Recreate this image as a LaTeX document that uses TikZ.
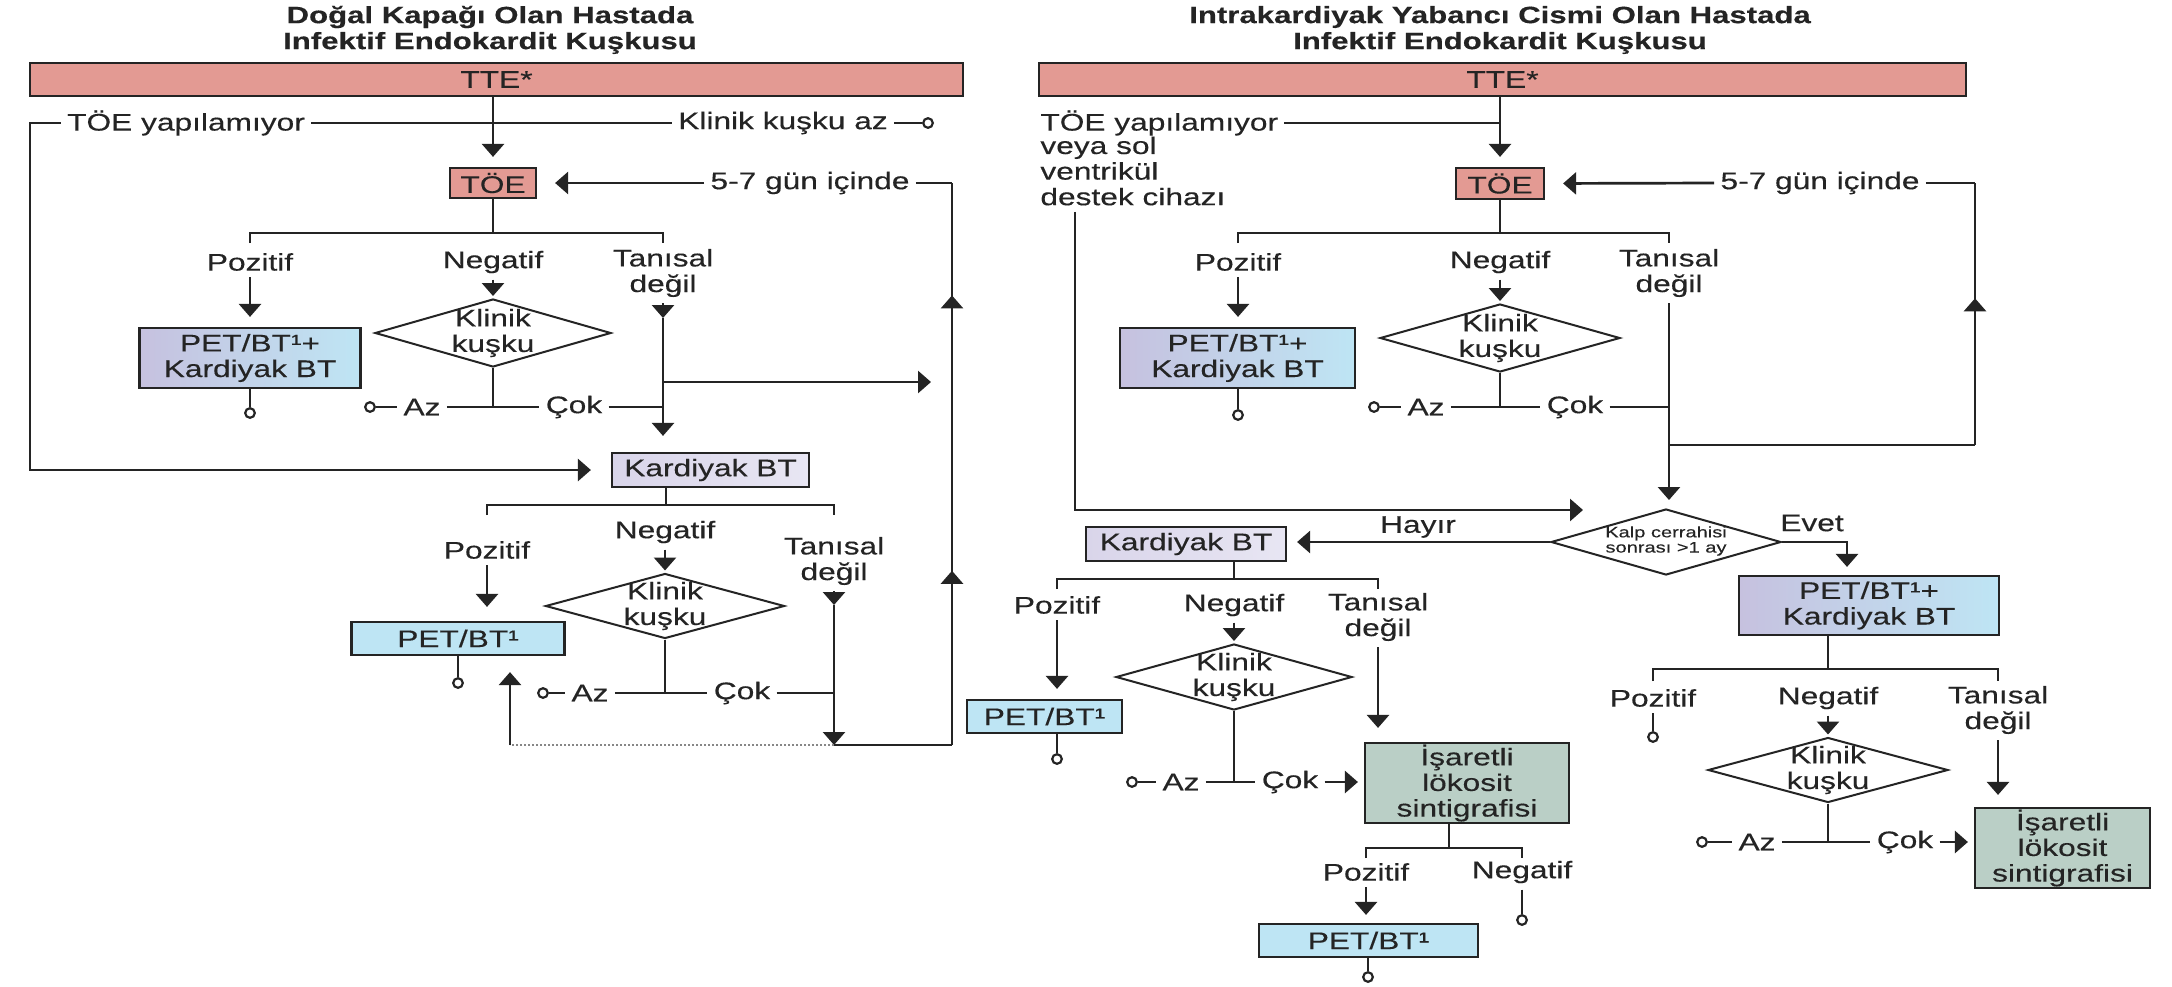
\documentclass[tikz,border=0pt]{standalone}
\usepackage{fontspec}
\setmainfont{Liberation Sans}[FakeStretch=1.32, FakeBold=0.3]
\usetikzlibrary{arrows.meta,shapes.geometric,decorations.markings}
\definecolor{tte}{HTML}{E39A93}
\definecolor{petb}{HTML}{BEE5F4}
\definecolor{lav}{HTML}{C6C1DF}
\definecolor{kbtl}{HTML}{D9D5EA}
\definecolor{kbtr}{HTML}{E8E6F3}
\definecolor{isr}{HTML}{BACFC6}
\definecolor{ink}{HTML}{242424}
\begin{document}
\begin{tikzpicture}[x=0.5pt,y=-0.5pt,
  every node/.style={text=ink, font=\fontsize{12}{12.8}\selectfont, inner sep=3pt, align=center},
  ttl/.style={font=\bfseries\fontsize{11.8}{12.5}\selectfont},
  box/.style={draw=ink, line width=1.1pt, inner sep=0pt},
  sz/.style 2 args={minimum width=#1*0.5pt, minimum height=#2*0.5pt},
  dia/.style={diamond, draw=ink, line width=1pt, inner sep=0pt},
  dot/.style={circle, draw=ink, line width=1.1pt, fill=white, inner sep=0pt, minimum size=4.8pt},
  ln/.style={draw=ink, line width=1.35pt},
  tip/.tip={Triangle[width=11pt,length=6.5pt]},
  arr/.style={ln, -tip},
  faint/.style={draw=ink!55, line width=1.35pt, dash pattern=on 1.2pt off 0.8pt},
  pbk/.style={box, left color=lav, right color=petb},
  kbt/.style={box, left color=kbtl, right color=kbtr},
  small/.style={font=\fontsize{7.6}{7.6}\selectfont, inner sep=0pt}
]
\fill[white] (0,0) rectangle (2172,986);
\useasboundingbox (0,0) rectangle (2172,986);

% ---------------- native valve (left) ----------------
\node[ttl] (hL1) at (490,17) {Doğal Kapağı Olan Hastada};
\node[ttl] (hL2) at (490,43) {Infektif Endokardit Kuşkusu};
\node[box, sz={933}{33}, fill=tte] (tteL) at (496.5,79.5) {TTE*};
\node[box, sz={86}{30}, fill=tte] (toeL) at (493,183) {TÖE};
\node (noL) at (186,123) {TÖE yapılamıyor};
\node (lowL) at (783,123) {Klinik kuşku az};
\node[dot] (dLowL) at (928,123) {};
\node (dayL) at (810,183) {5-7 gün içinde};

\node (posL1) at (250,262) {Pozitif};
\node (negL1) at (493,262) {Negatif};
\node (tanL1) at (663,273) {Tanısal\\değil};
\node[pbk, sz={221}{60}] (pbkL) at (250,358) {PET/BT¹+\\Kardiyak BT};
\node[dot] (dPbkL) at (250,413) {};
\node[dia, sz={236}{68}] (diaL1) at (493,333) {};
\node (txL1) at (493,333) {Klinik\\kuşku};
\node[dot] (dAzL1) at (370,407) {};
\node (azL1) at (422,407) {Az};
\node (cokL1) at (574,407) {Çok};
\node[kbt, sz={197}{34}] (kbtL) at (710.5,470) {Kardiyak BT};

\node (posL2) at (487,550) {Pozitif};
\node (negL2) at (665,532) {Negatif};
\node (tanL2) at (834,561) {Tanısal\\değil};
\node[box, fill=petb, sz={213}{33}] (petL) at (458,638.5) {PET/BT¹};
\node[dot] (dPetL) at (458,683) {};
\node[dia, sz={239}{65}] (diaL2) at (665,606) {};
\node (txL2) at (665,606) {Klinik\\kuşku};
\node[dot] (dAzL2) at (543,693) {};
\node (azL2) at (590,693) {Az};
\node (cokL2) at (742,693) {Çok};

\coordinate (cornL) at (30,123);
\coordinate (lpTopL) at (952,183);
\coordinate (lpBotL) at (952,745);
\coordinate (bL1) at (493,233);
\coordinate (jL1) at (493,407);
\coordinate (tL1a) at (663,318);
\coordinate (tL1b) at (663,382);
\coordinate (rL1) at (931,382);
\coordinate (bL2) at (666,505);
\coordinate (jL2) at (665,693);
\coordinate (tL2a) at (834,605);
\coordinate (tL2b) at (834,745);
\coordinate (upL) at (510,745);

\draw[arr, shorten >=5pt] (tteL.south -| toeL) -- (toeL.north);
\draw[ln] (noL.east) -- (lowL.west);
\draw[ln] (lowL.east) -- (dLowL.west);
\draw[arr, shorten >=10pt] (noL.west) -- (cornL) |- (kbtL.west);
\draw[arr, shorten >=9pt] (dayL.west) -- (toeL.east);
\draw[ln] (dayL.east) -- (lpTopL);
\draw[ln, postaction={decorate}, decoration={markings,
    mark=at position 0.31 with {\arrow{tip}},
    mark=at position 0.8 with {\arrow{tip}}}]
  (lpBotL) -- (lpTopL);

\draw[ln] (toeL.south) -- (bL1);
\draw[ln] (posL1 |- bL1) ++(0,10) -- (posL1 |- bL1) -- (tanL1 |- bL1) -- ++(0,10);
\draw[arr, shorten >=5pt] (posL1.south) -- (pbkL.north);
\draw[ln] (pbkL.south) -- (dPbkL.north);
\draw[arr, shorten >=1pt] (negL1.south) -- (diaL1.north);
\draw[ln] (diaL1.south) -- (jL1);
\draw[ln] (dAzL1.east) -- (azL1.west);
\draw[ln] (azL1.east) -- (cokL1.west);
\draw[ln] (cokL1.east) -- (cokL1 -| tanL1);
\draw[arr] (tanL1.south) -- (tL1a);
\draw[arr, shorten >=8pt] (tL1a) -- (tanL1 |- kbtL.north);
\draw[arr] (tL1b) -- (rL1);

\draw[ln] (kbtL.south -| bL2) -- (bL2);
\draw[ln] (posL2 |- bL2) ++(0,10) -- (posL2 |- bL2) -- (tanL2 |- bL2) -- ++(0,10);
\draw[arr, shorten >=7pt] (posL2.south) -- (posL2 |- petL.north);
\draw[ln] (petL.south) -- (dPetL.north);
\draw[arr, shorten >=1pt] (negL2.south) -- (diaL2.north);
\draw[ln] (diaL2.south) -- (jL2);
\draw[ln] (dAzL2.east) -- (azL2.west);
\draw[ln] (azL2.east) -- (cokL2.west);
\draw[ln] (cokL2.east) -- (cokL2 -| tanL2);
\draw[arr] (tanL2.south) -- (tL2a);
\draw[arr] (tL2a) -- (tL2b);
\draw[ln] (tL2b) -- (lpBotL);
\draw[faint] (tL2b) -- (upL);
\draw[arr, shorten >=8pt] (upL) -- (upL |- petL.south);

% ---------------- intracardiac device (right) ----------------
\node[ttl] (hR1) at (1500,17) {Intrakardiyak Yabancı Cismi Olan Hastada};
\node[ttl] (hR2) at (1500,43) {Infektif Endokardit Kuşkusu};
\node[box, sz={927}{33}, fill=tte] (tteR) at (1502.5,79.5) {TTE*};
\node[box, sz={88}{31}, fill=tte] (toeR) at (1500,183.5) {TÖE};
\node[anchor=west] (noR1) at (1034,123) {TÖE yapılamıyor};
\node[anchor=west, align=left] (noR2) at (1034,171) {veya sol\\ventrikül\\destek cihazı};
\node (dayR) at (1820,183) {5-7 gün içinde};

\node (posR1) at (1238,262) {Pozitif};
\node (negR1) at (1500,262) {Negatif};
\node (tanR1) at (1669,273) {Tanısal\\değil};
\node[pbk, sz={235}{60}] (pbkR) at (1237.5,358) {PET/BT¹+\\Kardiyak BT};
\node[dot] (dPbkR) at (1238,415) {};
\node[dia, sz={240}{68}] (diaR1) at (1500,338) {};
\node (txR1) at (1500,338) {Klinik\\kuşku};
\node[dot] (dAzR1) at (1374,407) {};
\node (azR1) at (1426,407) {Az};
\node (cokR1) at (1575,407) {Çok};

\node[dia, sz={230}{66}] (kalp) at (1666,542) {};
\node[small] (kalpT) at (1666,541) {Kalp cerrahisi\\sonrası >1 ay};
\node (hayR) at (1418,527) {Hayır};
\node (evetR) at (1812,523) {Evet};

\node[kbt, sz={200}{34}] (kbtR) at (1186,544) {Kardiyak BT};
\node (posR2) at (1057,605) {Pozitif};
\node (negR2) at (1234,605) {Negatif};
\node (tanR2) at (1378,617) {Tanısal\\değil};
\node[box, fill=petb, sz={155}{33}] (petR1) at (1044.5,716.5) {PET/BT¹};
\node[dot] (dPetR1) at (1057,759) {};
\node[dia, sz={236}{66}] (diaR2) at (1234,677) {};
\node (txR2) at (1234,677) {Klinik\\kuşku};
\node[dot] (dAzR2) at (1132,782) {};
\node (azR2) at (1181,782) {Az};
\node (cokR2) at (1290,782) {Çok};
\node[box, fill=isr, sz={204}{80}] (isrR1) at (1467,783) {İşaretli\\lökosit\\sintigrafisi};
\node (posR4) at (1366,872) {Pozitif};
\node (negR4) at (1522,872) {Negatif};
\node[box, fill=petb, sz={219}{33}] (petR2) at (1368.5,940.5) {PET/BT¹};
\node[dot] (dPetR2) at (1368,977) {};
\node[dot] (dNegR4) at (1522,920) {};

\node[pbk, sz={260}{59}] (pbkR2) at (1869,605.5) {PET/BT¹+\\Kardiyak BT};
\node (posR3) at (1653,698) {Pozitif};
\node (negR3) at (1828,698) {Negatif};
\node (tanR3) at (1998,710) {Tanısal\\değil};
\node[dot] (dPosR3) at (1653,737) {};
\node[dia, sz={240}{65}] (diaR3) at (1828,770) {};
\node (txR3) at (1828,770) {Klinik\\kuşku};
\node[dot] (dAzR3) at (1702,842) {};
\node (azR3) at (1757,842) {Az};
\node (cokR3) at (1905,842) {Çok};
\node[box, fill=isr, sz={175}{80}] (isrR2) at (2062.5,848) {İşaretli\\lökosit\\sintigrafisi};

\coordinate (cR) at (1075,510);
\coordinate (tipR) at (1583,510);
\coordinate (lpTopR) at (1975,183);
\coordinate (lpBotR) at (1975,445);
\coordinate (lpJR) at (1669,445);
\coordinate (bR1) at (1500,233);
\coordinate (jR1) at (1500,407);
\coordinate (evR) at (1847,542);
\coordinate (bR2) at (1234,579);
\coordinate (jR2) at (1234,782);
\coordinate (bR3) at (1828,669);
\coordinate (jR3) at (1828,842);
\coordinate (bR4) at (1449,848);

\draw[arr, shorten >=5pt] (tteR.south -| toeR) -- (toeR.north);
\draw[ln] (noR1.east) -- (noR1.east -| toeR);
\draw[arr] (noR2.south -| cR) -- (cR) -- (tipR);
\draw[arr, shorten >=9pt] (dayR.west) -- (toeR.east);
\draw[ln] (dayR.east) -- (lpTopR);
\draw[ln] (lpJR) -- (lpBotR);
\draw[ln, postaction={decorate}, decoration={markings,
    mark=at position 0.56 with {\arrow{tip}}}]
  (lpBotR) -- (lpTopR);

\draw[ln] (toeR.south) -- (bR1);
\draw[ln] (posR1 |- bR1) ++(0,10) -- (posR1 |- bR1) -- (tanR1 |- bR1) -- ++(0,10);
\draw[arr, shorten >=5pt] (posR1.south) -- (posR1 |- pbkR.north);
\draw[ln] (pbkR.south -| dPbkR) -- (dPbkR.north);
\draw[arr, shorten >=1pt] (negR1.south) -- (diaR1.north);
\draw[ln] (diaR1.south) -- (jR1);
\draw[ln] (dAzR1.east) -- (azR1.west);
\draw[ln] (azR1.east) -- (cokR1.west);
\draw[ln] (cokR1.east) -- (cokR1 -| tanR1);
\draw[arr, shorten >=4pt] (tanR1.south) -- (tanR1.south |- kalp.north);

\draw[arr, shorten >=5pt] (kalp.west) -- (kalp.west -| kbtR.east);
\draw[arr, shorten >=4pt] (kalp.east) -- (evR) -- (evR |- pbkR2.north);

\draw[ln] (kbtR.south -| bR2) -- (bR2);
\draw[ln] (posR2 |- bR2) ++(0,10) -- (posR2 |- bR2) -- (tanR2 |- bR2) -- ++(0,10);
\draw[arr, shorten >=5pt] (posR2.south) -- (posR2 |- petR1.north);
\draw[ln] (petR1.south -| dPetR1) -- (dPetR1.north);
\draw[arr, shorten >=1pt] (negR2.south) -- (diaR2.north);
\draw[ln] (diaR2.south) -- (jR2);
\draw[ln] (dAzR2.east) -- (azR2.west);
\draw[ln] (azR2.east) -- (cokR2.west);
\draw[arr, shorten >=3pt] (cokR2.east) -- (cokR2.east -| isrR1.west);
\draw[arr, shorten >=7pt] (tanR2.south) -- (tanR2 |- isrR1.north);

\draw[ln] (isrR1.south -| bR4) -- (bR4);
\draw[ln] (posR4 |- bR4) ++(0,10) -- (posR4 |- bR4) -- (negR4 |- bR4) -- ++(0,10);
\draw[arr, shorten >=4pt] (posR4.south) -- (posR4 |- petR2.north);
\draw[ln] (petR2.south -| dPetR2) -- (dPetR2.north);
\draw[ln] (negR4.south) -- (dNegR4.north);

\draw[ln] (pbkR2.south -| bR3) -- (bR3);
\draw[ln] (posR3 |- bR3) ++(0,12) -- (posR3 |- bR3) -- (tanR3 |- bR3) -- ++(0,12);
\draw[ln] (posR3.south) -- (dPosR3.north);
\draw[arr, shorten >=1pt] (negR3.south) -- (diaR3.north);
\draw[ln] (diaR3.south) -- (jR3);
\draw[ln] (dAzR3.east) -- (azR3.west);
\draw[ln] (azR3.east) -- (cokR3.west);
\draw[arr, shorten >=3pt] (cokR3.east) -- (cokR3.east -| isrR2.west);
\draw[arr, shorten >=6pt] (tanR3.south) -- (tanR3 |- isrR2.north);
\end{tikzpicture}
\end{document}
